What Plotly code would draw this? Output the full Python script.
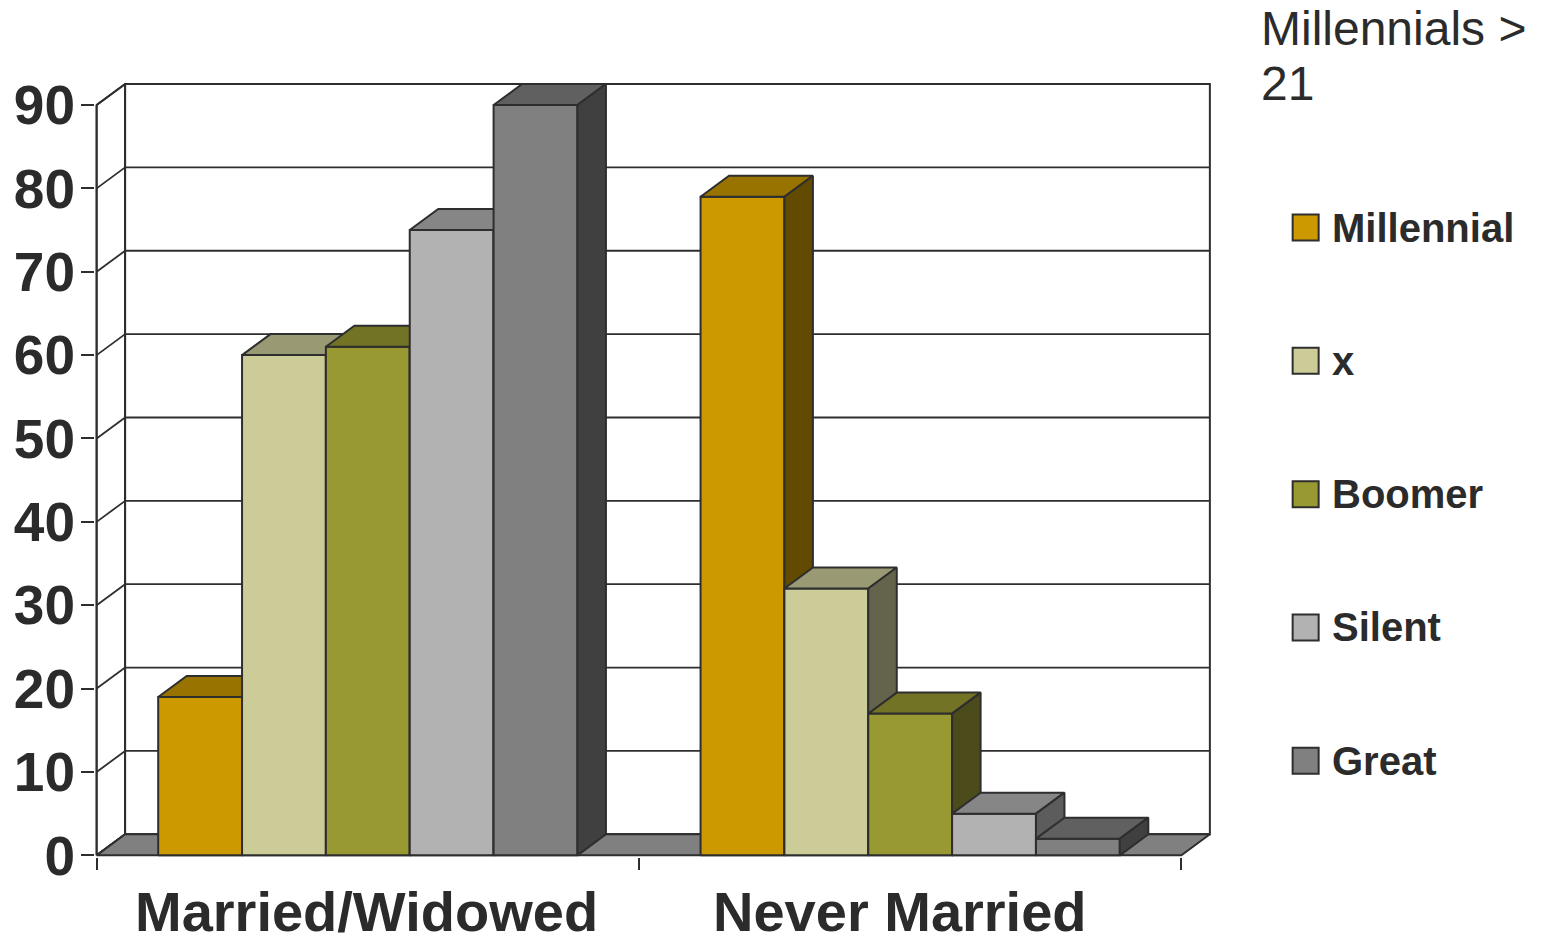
import plotly.graph_objects as go

# ---- data -------------------------------------------------------------
categories = ["Married/Widowed", "Never Married"]
generations = ["Millennial", "x", "Boomer", "Silent", "Great"]
married_widowed = [19, 60, 61, 75, 90]
never_married = [79, 32, 17, 5, 2]
y_ticks = [0, 10, 20, 30, 40, 50, 60, 70, 80, 90]
legend_title_lines = ["Millennials >", "21"]

# ---- styling ------------------------------------------------------------
front_colors = ["#CC9900", "#CCCC99", "#999933", "#B2B2B2", "#808080"]
top_colors = ["#997300", "#999973", "#737326", "#868686", "#606060"]
side_colors = ["#624A00", "#64644D", "#4B4B1B", "#5C5C5C", "#404040"]
edge = "#2E2E2E"
text_color = "#2B2B2B"
font_family = "Liberation Sans, Arial, sans-serif"

W, H = 1543, 938
X0_PX, CAT_PX = 96.7, 542.5     # front-left corner and width of one category
Y0_PX, UNIT_PX = 855.0, 8.3333  # baseline and pixels per value unit
x_range = [-0.003, 2.062]
y_range = [-0.2, 93.0]

ml = X0_PX + x_range[0] * CAT_PX
plot_w = (x_range[1] - x_range[0]) * CAT_PX
mr = W - ml - plot_w
mt = Y0_PX - y_range[1] * UNIT_PX
plot_h = (y_range[1] - y_range[0]) * UNIT_PX
mb = H - mt - plot_h


def px_to_paper_x(px):
    return (px - ml) / plot_w


def px_to_paper_y(py):
    return (mt + plot_h - py) / plot_h


# oblique depth of the 3-D box, in data units
DX = 28.5 / CAT_PX
DY = 21.0 / UNIT_PX
GROUP_GAP = 0.1135
BAR_W = (1 - 2 * GROUP_GAP) / len(generations)
n_cats = len(categories)
top_val = y_ticks[-1]

fig = go.Figure()


def poly(xs, ys, fill, width=2.0, color=edge):
    fig.add_trace(go.Scatter(
        x=list(xs) + [xs[0]], y=list(ys) + [ys[0]],
        mode="lines", fill="toself", fillcolor=fill,
        line=dict(color=color, width=width),
        hoverinfo="skip", showlegend=False,
    ))


def lines(segments, width=2.0, color=edge):
    xs, ys = [], []
    for (xa, ya), (xb, yb) in segments:
        xs += [xa, xb, None]
        ys += [ya, yb, None]
    fig.add_trace(go.Scatter(
        x=xs, y=ys, mode="lines", line=dict(color=color, width=width),
        hoverinfo="skip", showlegend=False,
    ))


# walls
poly([0, DX, DX, 0], [0, DY, top_val + DY, top_val], "white")
poly([DX, n_cats + DX, n_cats + DX, DX],
     [DY, DY, top_val + DY, top_val + DY], "white")

grid = []
for v in y_ticks:
    grid.append(((DX, v + DY), (n_cats + DX, v + DY)))
    grid.append(((0, v), (DX, v + DY)))
grid.append(((0, 0), (0, top_val)))
grid.append(((DX, DY), (DX, top_val + DY)))
lines(grid, width=1.8)

# floor
poly([0, DX, n_cats + DX, n_cats], [0, DY, DY, 0], "#808080")

# bars, painted left to right so nearer faces cover farther ones
series_by_cat = [married_widowed, never_married]
for c, values in enumerate(series_by_cat):
    for i, v in enumerate(values):
        x0 = c + GROUP_GAP + i * BAR_W
        x1 = x0 + BAR_W
        poly([x0, x1, x1, x0], [0, 0, v, v], front_colors[i])
        poly([x0, x1, x1 + DX, x0 + DX], [v, v, v + DY, v + DY], top_colors[i])
        poly([x1, x1 + DX, x1 + DX, x1], [0, DY, v + DY, v], side_colors[i])

# x category labels
label_x = [0.498, 1.482]
for cx, name in zip(label_x, categories):
    fig.add_annotation(
        x=cx, xref="x", y=px_to_paper_y(911), yref="paper",
        text=name, showarrow=False, xanchor="center", yanchor="middle",
        font=dict(family=font_family, size=56, color=text_color, weight="bold"),
    )

# legend block
fig.add_annotation(
    x=px_to_paper_x(1259), xref="paper", y=px_to_paper_y(29), yref="paper",
    text=legend_title_lines[0], showarrow=False, xanchor="left", yanchor="middle",
    font=dict(family=font_family, size=48, color=text_color),
)
fig.add_annotation(
    x=px_to_paper_x(1259), xref="paper", y=px_to_paper_y(84), yref="paper",
    text=legend_title_lines[1], showarrow=False, xanchor="left", yanchor="middle",
    font=dict(family=font_family, size=48, color=text_color),
)
for i, name in enumerate(generations):
    cy = 227.5 + i * 133.25
    fig.add_shape(
        type="rect", xref="paper", yref="paper",
        x0=px_to_paper_x(1293), x1=px_to_paper_x(1319),
        y0=px_to_paper_y(cy - 13), y1=px_to_paper_y(cy + 13),
        fillcolor=front_colors[i], line=dict(color=edge, width=2),
    )
    fig.add_annotation(
        x=px_to_paper_x(1330), xref="paper", y=px_to_paper_y(cy), yref="paper",
        text=name, showarrow=False, xanchor="left", yanchor="middle",
        font=dict(family=font_family, size=40, color=text_color, weight="bold"),
    )

fig.update_layout(
    template="none",
    width=W, height=H,
    margin=dict(l=ml, r=mr, t=mt, b=mb, pad=0, autoexpand=False),
    paper_bgcolor="white", plot_bgcolor="white",
    showlegend=False,
    xaxis=dict(
        range=x_range, showgrid=False, zeroline=False, showline=False,
        automargin=False,
        tickvals=list(range(n_cats + 1)), ticks="outside", ticklen=12,
        tickwidth=2, tickcolor=edge, showticklabels=False, fixedrange=True,
    ),
    yaxis=dict(
        range=y_range, showgrid=False, zeroline=False, showline=False,
        automargin=False,
        tickvals=y_ticks, ticks="outside", ticklen=13, tickwidth=2,
        tickcolor=edge, fixedrange=True, ticklabelstandoff=-5,
        tickfont=dict(family=font_family, size=55, color=text_color, weight="bold"),
    ),
)

fig.write_html("out.html")
